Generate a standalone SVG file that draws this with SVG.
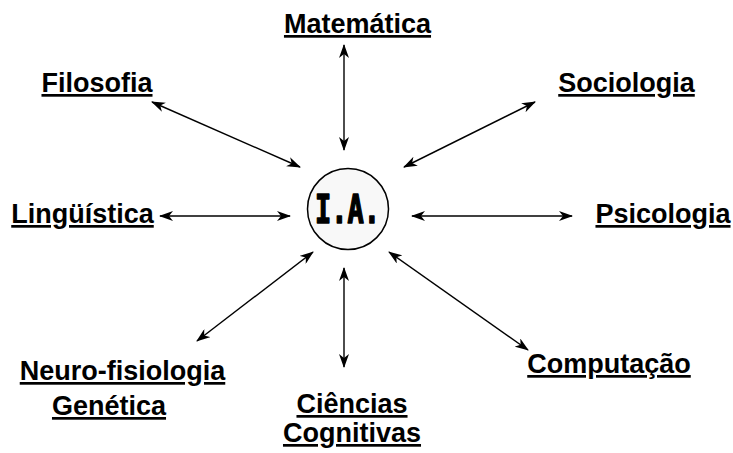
<svg xmlns="http://www.w3.org/2000/svg" width="733" height="453" viewBox="0 0 733 453">
<style>
.lbl{font-family:"Liberation Sans",Arial,sans-serif;font-weight:bold;font-size:27px;text-decoration:underline;text-decoration-thickness:3px;text-underline-offset:3px;text-anchor:middle;fill:#000}
.c{stroke:#000;stroke-width:1.4;fill:none;marker-start:url(#ah);marker-end:url(#ah)}
</style>
<defs>
<marker id="ah" viewBox="0 0 14 10" refX="13" refY="5" markerWidth="14" markerHeight="10" markerUnits="userSpaceOnUse" orient="auto-start-reverse">
<path d="M0,0 L14,5 L0,10 L4,5 z" fill="#000"/>
</marker>
</defs>
<rect width="733" height="453" fill="#fff"/>
<g id="connectors">
<line class="c" x1="344" y1="45" x2="344" y2="150"/>
<line class="c" x1="152" y1="102" x2="300" y2="167"/>
<line class="c" x1="535" y1="102" x2="404" y2="167"/>
<line class="c" x1="160" y1="216" x2="290" y2="216"/>
<line class="c" x1="412" y1="216" x2="572" y2="216"/>
<line class="c" x1="313" y1="252" x2="197" y2="341"/>
<line class="c" x1="344" y1="268" x2="344" y2="367"/>
<line class="c" x1="389" y1="252" x2="528" y2="350"/>
</g>
<g id="ia">
<circle cx="348" cy="209" r="40.5" fill="#f8f8f8" stroke="#000" stroke-width="1.5"/>
<text x="315" y="223" font-family="'DejaVu Sans Mono',monospace" font-weight="bold" font-size="39" textLength="65" lengthAdjust="spacingAndGlyphs" stroke="#000" stroke-width="1.6" stroke-linejoin="round">I.A.</text>
</g>
<g id="matematica"><text class="lbl" x="357.5" y="33">Matemática</text></g>
<g id="filosofia"><text class="lbl" x="97" y="92">Filosofia</text></g>
<g id="sociologia"><text class="lbl" x="626.5" y="92">Sociologia</text></g>
<g id="linguistica"><text class="lbl" x="82.5" y="223">Lingüística</text></g>
<g id="psicologia"><text class="lbl" x="663" y="223">Psicologia</text></g>
<g id="neuro"><text class="lbl" x="122.5" y="380">Neuro-fisiologia</text></g>
<g id="genetica"><text class="lbl" x="109" y="415">Genética</text></g>
<g id="computacao"><text class="lbl" x="609" y="373">Computação</text></g>
<g id="ciencias"><text class="lbl" x="352" y="413">Ciências</text><text class="lbl" x="352" y="442">Cognitivas</text></g>
</svg>
